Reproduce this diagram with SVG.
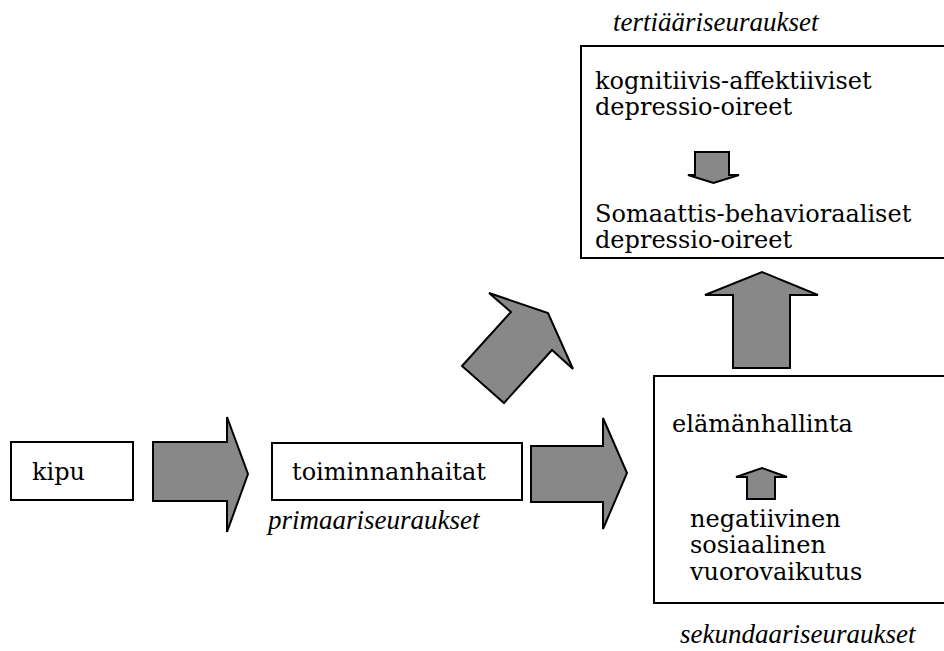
<svg xmlns="http://www.w3.org/2000/svg" width="944" height="651" viewBox="0 0 944 651">
  <style>
    .box { fill: #ffffff; stroke: #000000; stroke-width: 2; }
    .arrow { fill: #888888; stroke: #000000; stroke-width: 2; stroke-linejoin: miter; }
    text { fill: #000000; }
    .t { font-family: 'DejaVu Serif', 'Liberation Serif', serif; font-size: 24px; }
    .it { font-family: 'Liberation Serif', 'DejaVu Serif', serif; font-size: 27px; font-style: italic; }
  </style>
  <rect width="944" height="651" fill="#ffffff"/>

  <!-- nodes -->
  <g id="kipu">
    <rect class="box" x="11" y="442" width="122" height="58"/>
    <text class="t" x="32" y="480">kipu</text>
  </g>

  <g id="toiminnanhaitat">
    <rect class="box" x="272" y="443" width="250" height="57"/>
    <text class="t" x="292" y="480">toiminnanhaitat</text>
    <text class="it" x="268" y="529">primaariseuraukset</text>
  </g>

  <g id="tertiaariseuraukset">
    <text class="it" x="613" y="31">tertiääriseuraukset</text>
    <rect class="box" x="581" y="46" width="370" height="212"/>
    <text class="t" x="595" y="89">kognitiivis-affektiiviset</text>
    <text class="t" x="595" y="115">depressio-oireet</text>
    <polygon class="arrow" points="695,152 729,152 729,175 739,175 713.5,183 688,175 695,175"/>
    <text class="t" x="595" y="222">Somaattis-behavioraaliset</text>
    <text class="t" x="595" y="248">depressio-oireet</text>
  </g>

  <g id="sekundaariseuraukset">
    <rect class="box" x="654" y="376" width="297" height="227"/>
    <text class="t" x="672" y="432">elämänhallinta</text>
    <polygon class="arrow" points="747,499 775,499 775,477 787,477 762,468 736,477 747,477"/>
    <text class="t" x="690" y="527">negatiivinen</text>
    <text class="t" x="690" y="553">sosiaalinen</text>
    <text class="t" x="690" y="580">vuorovaikutus</text>
    <text class="it" x="680" y="643">sekundaariseuraukset</text>
  </g>

  <!-- connectors -->
  <g id="connectors">
    <polygon class="arrow" points="153,442 227,442 227,417 248,474 227,532 227,501 153,501"/>
    <polygon class="arrow" points="531,446 603,446 603,418 627,473 603,529 603,502 531,502"/>
    <polygon class="arrow" points="489,293 548,313 573,369 552,350 504,403 462,366 511,312"/>
    <polygon class="arrow" points="733,368 790,368 790,295 818,295 762,272 705,295 733,295"/>
  </g>
</svg>
